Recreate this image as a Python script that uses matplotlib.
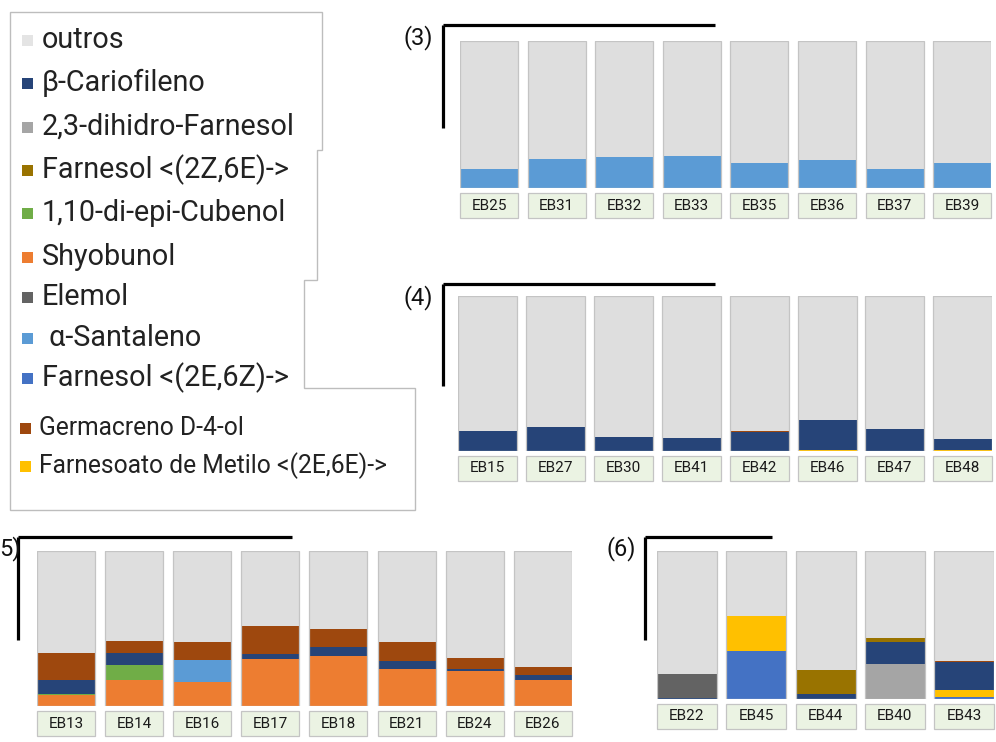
import matplotlib.pyplot as plt
from matplotlib.patches import Rectangle, Polygon
from matplotlib.lines import Line2D

plt.rcParams['font.family'] = ['Roboto', 'DejaVu Sans']

# amostras, na ordem dos paineis (3), (4), (5), (6)
amostras = ["EB25", "EB31", "EB32", "EB33", "EB35", "EB36", "EB37", "EB39",
            "EB15", "EB27", "EB30", "EB41", "EB42", "EB46", "EB47", "EB48",
            "EB13", "EB14", "EB16", "EB17", "EB18", "EB21", "EB24", "EB26",
            "EB22", "EB45", "EB44", "EB40", "EB43"]

# % de cada composto
shyobunol = [0, 0, 0, 0, 0, 0, 0, 0,
             0, 0, 0, 0, 0, 0, 0, 0,
             7, 17, 15.5, 30.5, 32, 23.7, 22.6, 17,
             0, 0, 0, 0, 0]
dihidro_farnesol = [0, 0, 0, 0, 0, 0, 0, 0,
                    0, 0, 0, 0, 0, 0, 0, 0,
                    0, 0, 0, 0, 0, 0, 0, 0,
                    0, 0, 0, 23.6, 0]
farnesol_2e6z = [0, 0, 0, 0, 0, 0, 0, 0,
                 0, 0, 0, 0, 0, 0, 0, 0,
                 0, 0, 0, 0, 0, 0, 0, 0,
                 0, 32.6, 0, 0, 1.3]
farnesoato = [0, 0, 0, 0, 0, 0, 0, 0,
              0, 0, 0, 0, 0, 0.8, 0, 0.8,
              0, 0, 0, 0, 0, 0, 0, 0,
              0, 23.4, 0, 0, 4.5]
cubenol = [0, 0, 0, 0, 0, 0, 0, 0,
           0, 0, 0, 0, 0, 0, 0, 0,
           0.8, 9.7, 0, 0, 0, 0, 0, 0,
           0, 0, 0, 0, 0]
alfa_santaleno = [13, 20, 21, 22, 17, 19, 13, 17,
                  0, 0, 0, 0, 0, 0, 0, 0,
                  0, 0, 14, 0, 0, 0, 0, 0,
                  0, 0, 0, 0, 0]
beta_cariofileno = [0, 0, 0, 0, 0, 0, 0, 0,
                    13, 15.5, 9, 8.5, 12, 19, 14, 7,
                    9, 7.5, 0, 3, 6, 5.4, 1, 2.8,
                    1, 0, 3.4, 14.6, 19]
elemol = [0, 0, 0, 0, 0, 0, 0, 0,
          0, 0, 0, 0, 0, 0, 0, 0,
          0, 0, 0, 0, 0, 0, 0, 0,
          16, 0, 0, 0, 0]
farnesol_2z6e = [0, 0, 0, 0, 0, 0, 0, 0,
                 0, 0, 0, 0, 0, 0, 0, 0,
                 0, 0, 0, 0, 0, 0, 0, 0,
                 0, 0, 16, 2.7, 0]
germacreno = [0, 0, 0, 0, 0, 0, 0, 0,
              0, 0, 0, 0, 0.8, 0, 0, 0,
              17.6, 7.5, 12, 18, 11.4, 12, 7.5, 5.4,
              0, 0, 0, 0, 0.7]

# ordem de empilhamento (de baixo para cima)
pilha = [(shyobunol, '#ed7d31'), (dihidro_farnesol, '#a5a5a5'),
         (farnesol_2e6z, '#4472c4'), (farnesoato, '#ffc000'),
         (cubenol, '#70ad47'), (alfa_santaleno, '#5b9bd5'),
         (beta_cariofileno, '#264478'), (elemol, '#636363'),
         (farnesol_2z6e, '#997300'), (germacreno, '#9e480e')]
cor_outros = '#dedede'

legenda_nomes = ["outros", "β-Cariofileno", "2,3-dihidro-Farnesol", "Farnesol <(2Z,6E)->",
                 "1,10-di-epi-Cubenol", "Shyobunol", "Elemol", " α-Santaleno",
                 "Farnesol <(2E,6Z)->", "Germacreno D-4-ol", "Farnesoato de Metilo <(2E,6E)->"]
legenda_cores = ['#e4e4e4', '#264478', '#a5a5a5', '#997300', '#70ad47', '#ed7d31',
                 '#636363', '#5b9bd5', '#4472c4', '#9e480e', '#ffc000']

W, H = 996, 742
fig = plt.figure(figsize=(W / 100, H / 100), dpi=100)

def fx(x):
    return x / W

def fy(y):
    return 1 - y / H

# paineis: nome, inicio, fim, x tubo 1, passo, largura, topo, base, (linha) x0, x1, y, y_vert, (rotulo) x, y, ha
paineis = [("(3)", 0, 8, 460, 67.6, 58, 41, 188, 443, 715, 25, 128, 418, 38, 'center'),
           ("(4)", 8, 16, 458, 67.9, 59, 296, 451, 443, 715, 284, 386, 418, 298, 'center'),
           ("5)", 16, 24, 37, 68.1, 58, 551, 706, 18, 292, 537, 640, -1, 549, 'left'),
           ("(6)", 24, 29, 657, 69.3, 60, 551, 699, 645, 772, 537, 640, 621, 549, 'center')]

for nome, i0, i1, x0, p, w, top, bot, lx0, lx1, ly, lyv, tx, ty, ha in paineis:
    n = i1 - i0
    axw = (n - 1) * p + w
    ax = fig.add_axes([fx(x0), fy(bot), axw / W, (bot - top) / H])
    bw = w / p
    xs = list(range(n))
    base = [0] * n
    for serie, cor in pilha:
        vals = serie[i0:i1]
        ax.bar(xs, vals, bw, bottom=base, color=cor, linewidth=0)
        base = [b + v for b, v in zip(base, vals)]
    outros = [100 - b for b in base]
    ax.bar(xs, outros, bw, bottom=base, color=cor_outros, linewidth=0)
    ax.bar(xs, [100] * n, bw, fill=False, edgecolor='#c4c4c4', linewidth=0.9)
    ax.set_xlim(-bw / 2, n - 1 + bw / 2)
    ax.set_ylim(0, 100)
    ax.axis('off')
    h = bot - top
    for k in xs:
        ax.add_patch(Rectangle((k - bw / 2, -30 / h), bw, 25 / h,
                               transform=ax.get_xaxis_transform(), clip_on=False,
                               facecolor='#ebf3e3', edgecolor='#c4c4c4', linewidth=0.9))
        ax.text(k, -17.5 / h, amostras[i0 + k], transform=ax.get_xaxis_transform(),
                ha='center', va='center', fontsize=11, color='#1a1a1a')
    fig.add_artist(Line2D([fx(lx0), fx(lx1)], [fy(ly), fy(ly)], color='black', lw=2.3,
                          solid_capstyle='butt'))
    fig.add_artist(Line2D([fx(lx0), fx(lx0)], [fy(ly), fy(lyv)], color='black', lw=2.3,
                          solid_capstyle='butt'))
    fig.text(fx(tx), fy(ty), nome, ha=ha, va='center', fontsize=17, color='#111111')

# caixa da legenda
contorno = [(10, 12), (322, 12), (322, 150), (317, 150), (317, 280), (304, 280),
            (304, 388), (415, 388), (415, 510), (10, 510)]
fig.add_artist(Polygon([(fx(a), fy(b)) for a, b in contorno], closed=True,
                       facecolor='white', edgecolor='#bdbdbd', linewidth=1))

ys = [40, 83, 127, 170, 213, 257, 297, 338, 378, 428, 466]
for k, (nome, cor, y) in enumerate(zip(legenda_nomes, legenda_cores, ys)):
    tam = 20.7 if k < 9 else 17.7
    mx = 22 if k < 9 else 20
    fig.add_artist(Rectangle((fx(mx), fy(y + 6)), 11 / W, 11 / H, facecolor=cor, edgecolor='none'))
    fig.text(fx(42 if k < 9 else 39), fy(y), nome, ha='left', va='center', fontsize=tam,
             color='#222222')

fig.savefig("out.png", dpi=100)
